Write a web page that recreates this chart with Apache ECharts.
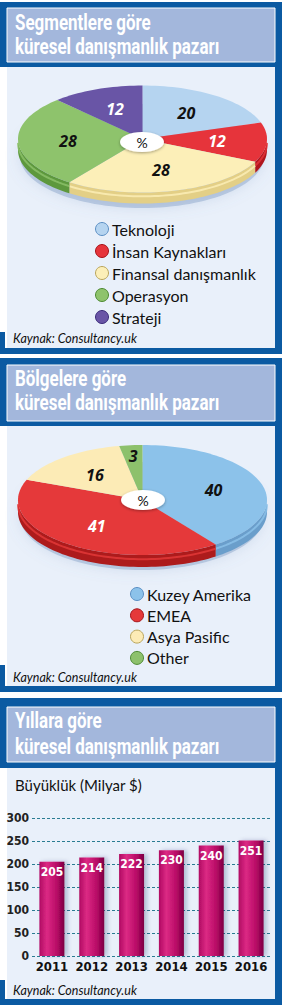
<!DOCTYPE html>
<html>
<head>
<meta charset="utf-8">
<script src="https://cdn.jsdelivr.net/npm/echarts@6/dist/echarts.min.js"></script>
<style>
  html, body { margin: 0; padding: 0; background: #fff; }
  #chart { width: 285px; height: 1005px; }
</style>
</head>
<body>
<div id="chart"></div>
<script>
// --- data ---
var segNames = ["Teknoloji", "İnsan Kaynakları", "Finansal danışmanlık", "Operasyon", "Strateji"];
var segValues = [20, 12, 28, 28, 12];
var regNames = ["Kuzey Amerika", "EMEA", "Asya Pasific", "Other"];
var regValues = [40, 41, 16, 3];
var years = ["2011", "2012", "2013", "2014", "2015", "2016"];
var marketValues = [205, 214, 222, 230, 240, 251];
var yTicks = [0, 50, 100, 150, 200, 250, 300];

// --- styles ---
var DARK = "#0b5aa2";
var BAND = "#a3b7dc";
var BODY = "#e9f0fa";
var NARROW = "'Liberation Sans Narrow','DejaVu Sans Condensed',Roboto,sans-serif";
var segColors = ["#b5d4f0", "#e6343b", "#fcefb8", "#8ec36c", "#6955a6"];
var segSides = ["#86afd8", "#b0161d", "#e3cf86", "#5d983d", "#46368a"];
var segStroke = ["#5b8fc4", "#a5141a", "#b9a55c", "#4e8a34", "#3b2d7a"];
var segLabelColors = ["#111", "#fff", "#111", "#111", "#fff"];
var regColors = ["#8cc2ea", "#e5393a", "#fcebb6", "#8dc16c"];
var regSides = ["#6a9ecb", "#ad1b1c", "#e2cf8a", "#5f983f"];
var regStroke = ["#5b8fc4", "#a5141a", "#b9a55c", "#4e8a34"];
var regLabelColors = ["#111", "#fff", "#111", "#111"];

var chart = echarts.init(document.getElementById("chart"), null, { renderer: "svg" });

var graphics = [];

// panel frame + title band
function panel(y0, tTop, tBot, bandBot, bodyBot, leftTop, lines, baselines) {
  graphics.push({ type: "rect", shape: { x: 0, y: y0, width: 282, height: bandBot - y0 }, style: { fill: DARK } });
  graphics.push({ type: "rect", shape: { x: 275, y: y0, width: 7, height: bodyBot + 6 - y0 }, style: { fill: DARK } });
  graphics.push({ type: "rect", shape: { x: 0, y: bodyBot, width: 282, height: 6 }, style: { fill: DARK } });
  graphics.push({ type: "rect", shape: { x: 0, y: leftTop, width: 5, height: bodyBot - leftTop }, style: { fill: DARK } });
  graphics.push({ type: "rect", shape: { x: 7, y: bandBot, width: 268, height: bodyBot - bandBot }, style: { fill: BODY } });
  graphics.push({ type: "rect", shape: { x: 7, y: tTop, width: 268, height: tBot - tTop }, style: { fill: BAND, stroke: "#fff", lineWidth: 1 } });
  lines.forEach(function (t, i) {
    graphics.push({
      type: "text", x: 15, y: baselines[i] - 8, scaleX: 0.77,
      style: { text: t, fill: "#fff", fontFamily: "Roboto", fontWeight: "bold", fontSize: 22, verticalAlign: "middle" }
    });
  });
}

function legend(names, colors, strokes, x, y, gap) {
  names.forEach(function (n, i) {
    graphics.push({ type: "circle", shape: { cx: x, cy: y + i * gap, r: 6.5 }, style: { fill: colors[i], stroke: strokes[i], lineWidth: 1 } });
    graphics.push({ type: "text", x: x + 10, y: y + i * gap, style: { text: n, fill: "#111", fontFamily: "Lato", fontSize: 16, verticalAlign: "middle" } });
  });
}

function source(y) {
  graphics.push({ type: "text", x: 13, y: y, style: { text: "Kaynak: Consultancy.uk", fill: "#111", fontFamily: "Lato", fontStyle: "italic", fontSize: 12.5, verticalAlign: "middle" } });
}

function hole(cx, cy) {
  graphics.push({ type: "ellipse", z: 10, shape: { cx: cx, cy: cy, rx: 22, ry: 10 }, style: { fill: "#fff", shadowBlur: 3, shadowColor: "rgba(0,0,0,0.35)", shadowOffsetY: 1 } });
  graphics.push({ type: "text", z: 11, x: cx, y: cy, style: { text: "%", fill: "#111", fontFamily: "Lato", fontSize: 14, align: "center", verticalAlign: "middle" } });
}

function pieShadow(cx, cy, rx, ry) {
  graphics.push({ type: "ellipse", z: 1, shape: { cx: cx, cy: cy, rx: rx, ry: ry }, style: { fill: "rgba(110,140,185,0.35)", shadowBlur: 14, shadowColor: "rgba(110,140,185,0.6)" } });
}

// elliptical 3D pie drawn with a custom series
function ellipsePie(values, colors, sides, labelColors, geo) {
  var total = values.reduce(function (a, b) { return a + b; }, 0);
  var starts = [];
  var acc = 0;
  values.forEach(function (v) { starts.push(acc); acc += v; });
  function pt(a, dy) {
    var r = a * Math.PI / 180;
    return [geo.cx + geo.rx * Math.sin(r), geo.cy - geo.ry * Math.cos(r) + (dy || 0)];
  }
  function arc(a0, a1, dy) {
    var pts = [];
    var n = Math.max(2, Math.ceil((a1 - a0) / 2));
    for (var k = 0; k <= n; k++) pts.push(pt(a0 + (a1 - a0) * k / n, dy));
    return pts;
  }
  return {
    type: "custom",
    coordinateSystem: "none",
    silent: true,
    data: values,
    renderItem: function (params, api) {
      var i = params.dataIndex;
      var v = api.value(0);
      var a0 = starts[i] / total * 360;
      var a1 = (starts[i] + v) / total * 360;
      var children = [];
      var s0 = Math.max(a0, 90), s1 = Math.min(a1, 270);
      if (s1 > s0) {
        var top = arc(s0, s1, 0);
        var bot = arc(s0, s1, geo.h).reverse();
        children.push({ type: "polygon", shape: { points: top.concat(bot) }, style: { fill: sides[i] } });
        children.push({ type: "polyline", shape: { points: arc(s0, s1, geo.h * 0.35) }, style: { stroke: colors[i], lineWidth: 2, fill: null, opacity: 0.8 } });
      }
      children.push({ type: "polygon", shape: { points: [[geo.cx, geo.cy]].concat(arc(a0, a1, 0)) }, style: { fill: colors[i] } });
      var mid = (a0 + a1) / 2;
      var lr = v < 5 ? 0.8 : 0.6;
      var m = mid * Math.PI / 180;
      children.push({
        type: "text",
        x: geo.cx + geo.rx * lr * Math.sin(m),
        y: geo.cy - geo.ry * lr * Math.cos(m),
        style: { text: String(v), fill: labelColors[i], fontFamily: "'Open Sans',sans-serif", fontWeight: "bold", fontStyle: "italic", fontSize: 16, align: "center", verticalAlign: "middle" }
      });
      return { type: "group", children: children };
    }
  };
}

// panels
panel(2, 8, 62, 67, 348, 332, ["Segmentlere göre", "küresel danışmanlık pazarı"], [31, 55]);
panel(358, 365, 421, 426, 686, 665, ["Bölgelere göre", "küresel danışmanlık pazarı"], [387, 411]);
panel(698, 707, 762, 768, 999, 980, ["Yıllara göre", "küresel danışmanlık pazarı"], [729, 755]);

pieShadow(142, 156, 122, 52);
pieShadow(142, 516, 122, 54);
hole(142, 142);
hole(143, 500);
legend(segNames, segColors, segStroke, 102, 229, 22);
legend(regNames, regColors, regStroke, 137, 594, 21.3);
source(338);
source(677);
source(990);
graphics.push({ type: "text", x: 15, y: 785, style: { text: "Büyüklük (Milyar $)", fill: "#111", fontFamily: "Lato", fontSize: 15, verticalAlign: "middle" } });

chart.setOption({
  animation: false,
  graphic: { elements: graphics },
  grid: { left: 32, right: 14, top: 818, bottom: 49 },
  xAxis: {
    type: "category",
    data: years,
    axisLine: { show: false },
    axisTick: { show: false },
    axisLabel: { interval: 0, fontFamily: NARROW, fontWeight: "bold", fontSize: 13, color: "#111", margin: 4 }
  },
  yAxis: {
    type: "value",
    min: yTicks[0],
    max: yTicks[yTicks.length - 1],
    interval: yTicks[1] - yTicks[0],
    axisLine: { show: false },
    axisTick: { show: false },
    axisLabel: { fontFamily: NARROW, fontWeight: "bold", fontSize: 12, color: "#222", margin: 3 },
    splitLine: { lineStyle: { color: "#2a7c92", type: [3, 2], width: 1 } }
  },
  series: [
    ellipsePie(segValues, segColors, segSides, segLabelColors, { cx: 142.5, cy: 139, rx: 124.5, ry: 53.5, h: 11 }),
    ellipsePie(regValues, regColors, regSides, regLabelColors, { cx: 142.5, cy: 500, rx: 124.5, ry: 55, h: 12 }),
    {
      type: "bar",
      data: marketValues,
      barWidth: 25,
      itemStyle: {
        color: new echarts.graphic.LinearGradient(0, 0, 1, 0, [
          { offset: 0, color: "#b00a62" },
          { offset: 0.3, color: "#dc2a84" },
          { offset: 0.7, color: "#b80a66" },
          { offset: 1, color: "#7c0043" }
        ]),
        shadowColor: "rgba(0,40,90,0.25)",
        shadowBlur: 4,
        shadowOffsetX: 3
      },
      label: {
        show: true,
        position: "insideTop",
        distance: 4,
        color: "#fff",
        fontFamily: NARROW,
        fontWeight: "bold",
        fontSize: 12
      }
    }
  ]
});
</script>
</body>
</html>
